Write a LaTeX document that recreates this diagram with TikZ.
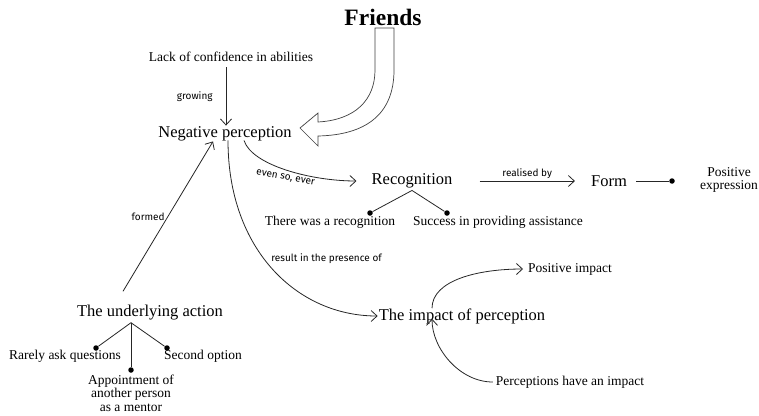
\documentclass[tikz,border=0pt]{standalone}
\usepackage{fontspec}
\setmainfont{Liberation Serif}
\newfontfamily\notefont{Fira Sans}
\usetikzlibrary{arrows.meta}
\begin{document}
\begin{tikzpicture}[x=1pt,y=-1pt,
  concept/.style={inner sep=1pt,font=\fontsize{16.5}{18}\selectfont},
  detail/.style={inner sep=1pt,font=\fontsize{13.5}{13.5}\selectfont,align=center},
  note/.style={inner sep=1pt,font=\notefont\fontsize{10}{11}\selectfont},
  link/.style={draw=black!85,line width=0.8pt,-{Straight Barb[length=6pt,width=11pt]}},
  branch/.style={draw=black!85,line width=0.8pt},
  dot/.style={circle,fill=black,inner sep=0pt,minimum size=5.5pt}]
\useasboundingbox (0,0) rectangle (759,415);

% nodes
\node[inner sep=1pt,font=\bfseries\fontsize{23.5}{26}\selectfont] (fr) at (383,17) {Friends};
\node[detail] (lack) at (231,57) {Lack of confidence in abilities};
\node[concept] (neg) at (225,134) {Negative perception};
\node[concept] (rec) at (412,181) {Recognition};
\node[detail] (r1) at (330,222) {There was a recognition};
\node[detail] (r2) at (498,222) {Success in providing assistance};
\node[concept] (form) at (609,181) {Form};
\node[detail] (pos) at (729,180) {Positive\\expression};
\node[concept] (und) at (150,313) {The underlying action};
\node[detail] (u1) at (65,356) {Rarely ask questions};
\node[detail] (u2) at (131,393) {Appointment of\\another person\\as a mentor};
\node[detail] (u3) at (203,356) {Second option};
\node[concept] (imp) at (462,316) {The impact of perception};
\node[detail] (pi) at (570,269) {Positive impact};
\node[detail] (ph) at (570,382) {Perceptions have an impact};

% dots
\node[dot] (d1) at (370,213) {};
\node[dot] (d2) at (447,213) {};
\node[dot] (d3) at (672,181) {};
\node[dot] (d4) at (96,348) {};
\node[dot] (d5) at (131,370) {};
\node[dot] (d6) at (167,348) {};

% hollow arrow from Friends
\draw[black!75,line width=0.7pt,fill=white]
  (375,28) -- (394,28) -- (394,70)
  .. controls (394,115) and (365,135) .. (318,136)
  -- (318,146) -- (300,128) -- (318,113) -- (318,122)
  .. controls (355,120) and (375,100) .. (375,70) -- cycle;

% connectors
\draw[link] (lack.south) ++(-5,4) coordinate (ls) -- (ls |- neg.north) node[note,midway,left=12pt] {growing};
\draw[link] (und.north) ++(-27,-13) coordinate (us) -- ([xshift=-12pt,yshift=1pt]neg.south) node[note,pos=0.5,left=2pt] {formed};
\draw[link] ([xshift=19pt,yshift=2pt]neg.south) .. controls +(8,25) and +(-45,0) .. ([xshift=-14pt]rec.west)
  node[note,pos=0.5,below=3pt,rotate=-11] {even so, ever};
\draw[link] ([xshift=3pt,yshift=2pt]neg.south) .. controls +(0,110) and +(-80,0) .. (imp.west)
  node[note,pos=0.43,anchor=west,xshift=8pt,yshift=-3pt] {result in the presence of};
\draw[link] ([xshift=26pt]rec.east) -- ([xshift=-15pt]form.west) node[note,midway,above=1pt] {realised by};
\draw[branch] ([xshift=8pt]form.east) -- (d3);
\draw[branch] (d1) -- ([yshift=-1pt]rec.south) -- (d2);
\draw[branch] (d4) -- ([xshift=-19pt,yshift=-1pt]und.south) coordinate (uj) -- (d6);
\draw[branch] (uj) -- (d5);
\draw[link] ([xshift=-30pt,yshift=-1pt]imp.north) .. controls +(0,-28) and +(-45,0) .. ([xshift=-4pt]pi.west);
\draw[link] ([xshift=-2pt]ph.west) .. controls +(-33,0) and +(0,30) .. ([xshift=-30pt,yshift=6pt]imp.south);
\end{tikzpicture}
\end{document}
